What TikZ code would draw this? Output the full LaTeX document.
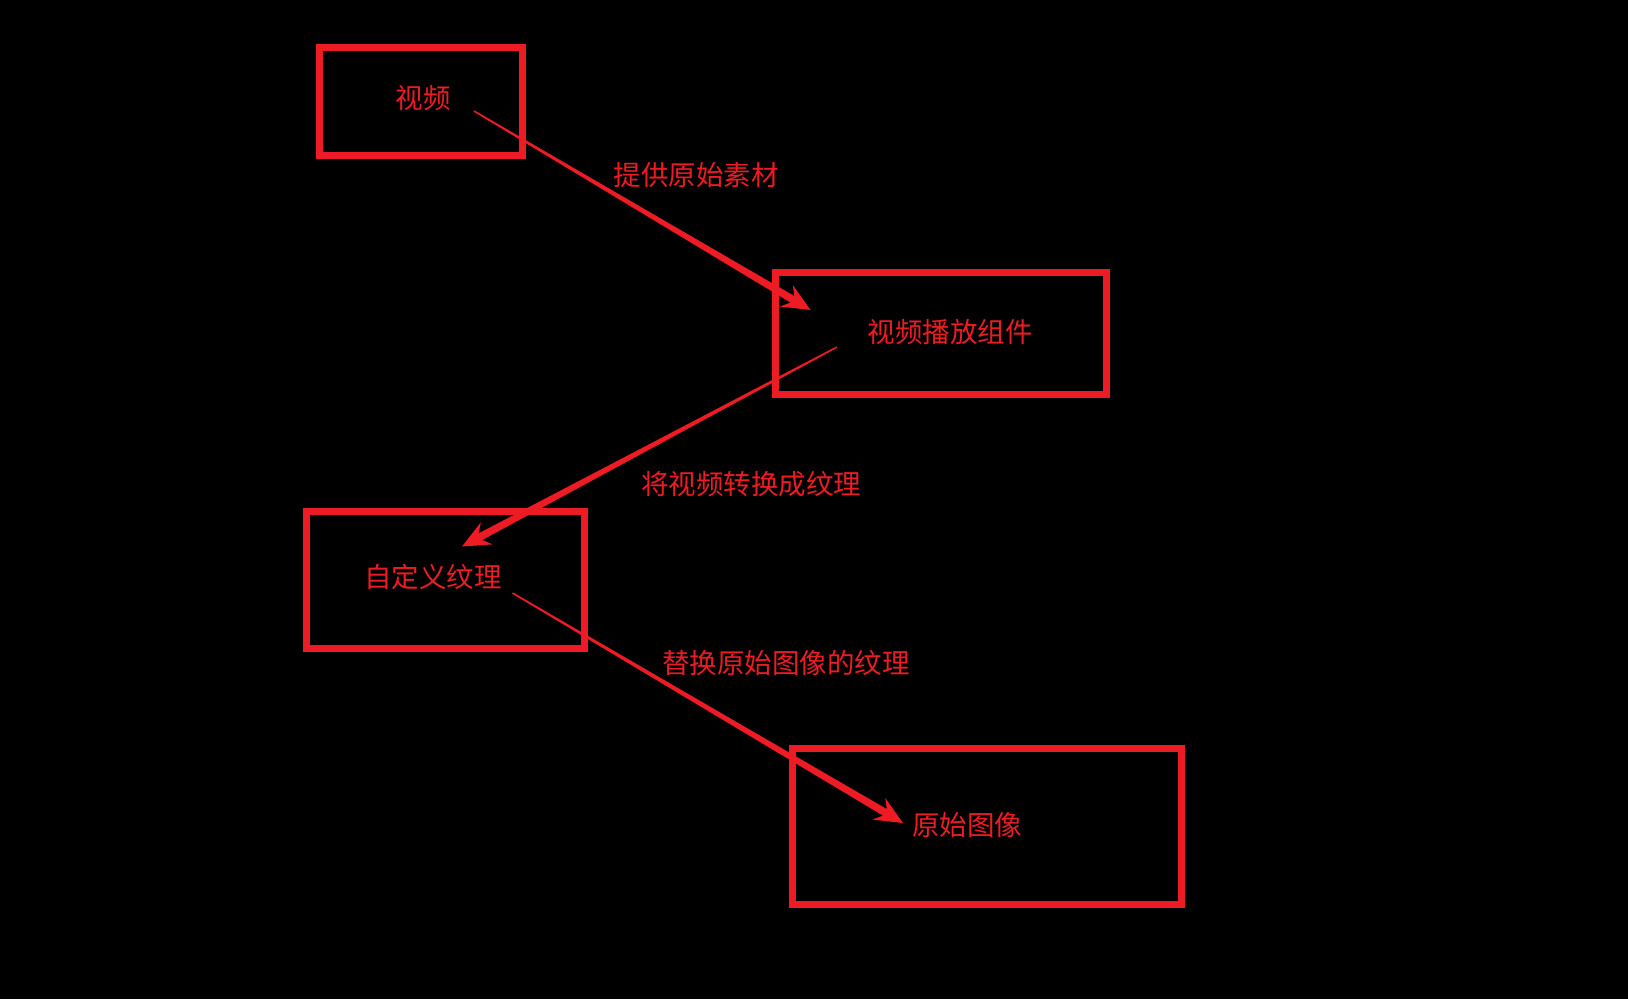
\documentclass[tikz,border=0pt]{standalone}
\usepackage{fontspec}
\setmainfont{Noto Sans CJK SC}
\usetikzlibrary{calc}
\definecolor{rd}{RGB}{237,28,36}
\tikzset{
  box/.style={draw=rd, line width=7pt, inner sep=0pt, rectangle},
  lbl/.style={text=rd, inner sep=0pt, font=\fontsize{27.5pt}{30pt}\selectfont}
}
\newcommand\taperarrow[2]{%
  \coordinate (#1n) at ($(#2)!21pt!(#1)$);
  \coordinate (#1w) at ($(#2)!28pt!(#1)$);
  \fill[rd] ($(#1)!0.8pt!90:(#2)$) -- ($(#1n)!3.8pt!-90:(#1)$) -- ($(#1w)!12.5pt!-90:(#1)$) -- (#2)
    -- ($(#1w)!12.5pt!90:(#1)$) -- ($(#1n)!3.8pt!90:(#1)$) -- ($(#1)!0.8pt!-90:(#2)$) -- cycle;
}
\begin{document}
\begin{tikzpicture}[x=1pt,y=-1pt]
\fill[black] (0,0) rectangle (1628,999);
\useasboundingbox (0,0) rectangle (1628,999);
% boxes
\node[box, minimum width=203pt, minimum height=108pt] (b1) at (420.5,101) {};
\node[box, minimum width=331pt, minimum height=122pt] (b2) at (940.5,333) {};
\node[box, minimum width=278pt, minimum height=137pt] (b3) at (445,579.5) {};
\node[box, minimum width=389pt, minimum height=156pt] (b4) at (986.5,826) {};
% box texts
\node[lbl] (t1) at (423,98) {视频};
\node[lbl] (t2) at (950,332) {视频播放组件};
\node[lbl] (t3) at (433,577) {自定义纹理};
\node[lbl] (t4) at (967,825) {原始图像};
% edge labels
\node[lbl] (l1) at (696,175) {提供原始素材};
\node[lbl] (l2) at (751,484) {将视频转换成纹理};
\node[lbl] (l3) at (786,663) {替换原始图像的纹理};
% connectors
\coordinate (s1) at (474,111);
\coordinate (e1) at (810.5,310);
\coordinate (s2) at (837,347);
\coordinate (e2) at (462,546.5);
\coordinate (s3) at (512.5,593);
\coordinate (e3) at (903,823);
\taperarrow{s1}{e1}
\taperarrow{s2}{e2}
\taperarrow{s3}{e3}
\end{tikzpicture}
\end{document}
